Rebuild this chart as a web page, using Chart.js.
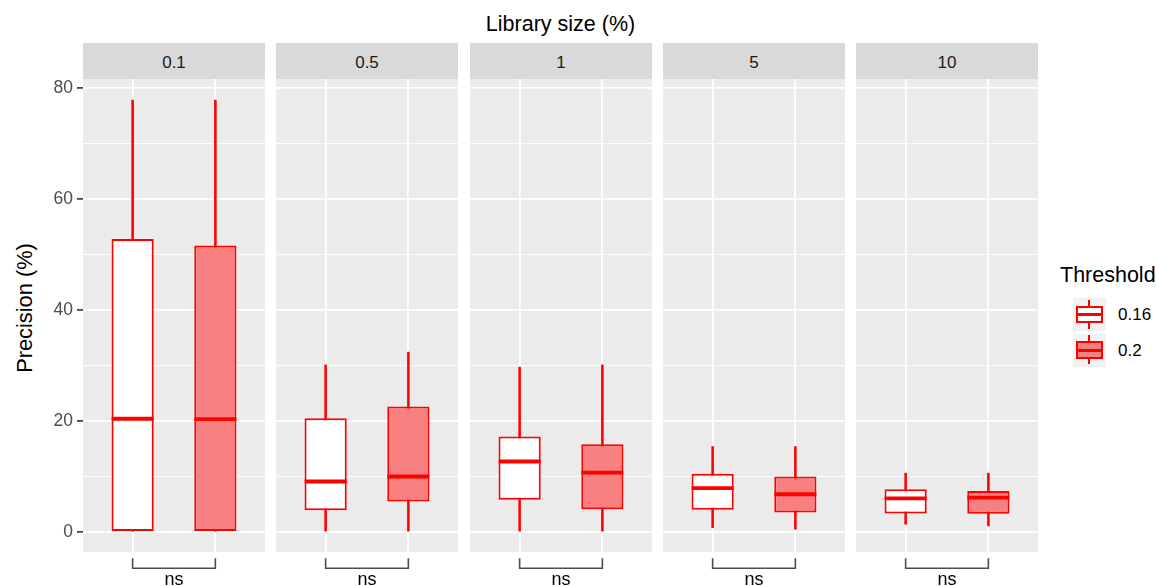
<!DOCTYPE html>
<html lang="en">
<head>
  <meta charset="UTF-8" />
  <title>Precision by library size and threshold</title>
  <script src="https://cdn.jsdelivr.net/npm/chart.js"></script>
  <style>
    body { margin: 0; background: #fff; font-family: "Liberation Sans", Arial, sans-serif; }
    #wrap { position: relative; width: 1156px; height: 586px; overflow: hidden; }
    #wrap canvas { position: absolute; top: 79px; }
    #title { position: absolute; left: 83px; width: 955px; top: 13.5px; text-align: center; font-size: 21.5px; line-height: 1; color: #000; }
    #ytitle { position: absolute; left: 24.5px; top: 308px; transform: translate(-50%, -50%) rotate(-90deg);
              white-space: nowrap; font-size: 21.8px; line-height: 1; color: #000; }
    .strip { position: absolute; top: 43px; height: 36px; width: 182px; box-sizing: border-box; padding-top: 11px;
             background: #d9d9d9; color: #1a1a1a; font-size: 17px; line-height: 1; text-align: center; }
    #legend { position: absolute; left: 1060px; top: 265px; }
    #legend .ltitle { font-size: 21.5px; line-height: 1; color: #000; }
    .key { position: absolute; left: 13px; width: 32.5px; height: 33px; background: #f2f2f2; }
    .key i { position: absolute; display: block; box-sizing: border-box; }
    .key .wh { left: 15.4px; top: 1.7px; width: 1.8px; height: 29px; background: #ff0000; }
    .key .bx { left: 2.6px; top: 7.4px; width: 27.3px; height: 17.6px; border: 2px solid #ff0000; }
    .key .md { left: 2.6px; top: 15.2px; width: 27.3px; height: 2.8px; background: #ff0000; }
    .klab { position: absolute; left: 58px; font-size: 17px; line-height: 1; color: #000; }
  </style>
</head>
<body>
  <div id="wrap">
    <div id="title">Library size (%)</div>
    <div id="ytitle">Precision (%)</div>
    <div id="legend">
      <div class="ltitle">Threshold</div>
    </div>
  </div>

  <script>
    const panels = ["0.1", "0.5", "1", "5", "10"];
    const thresholds = ["0.16", "0.2"];
    const xPos = [1, 2];
    // one row per panel, one column per threshold
    const whiskerLow  = [[0, 0], [0, 0], [0, 0], [0.8, 0.5], [1.4, 1.1]];
    const q1          = [[0, 0], [3.9, 5.5], [5.8, 4.1], [4.0, 3.5], [3.35, 3.3]];
    const median      = [[20.4, 20.35], [9.1, 10.0], [12.7, 10.7], [7.9, 6.8], [6.05, 6.2]];
    const q3          = [[52.8, 51.6], [20.5, 22.6], [17.2, 15.8], [10.5, 10.0], [7.7, 7.4]];
    const whiskerHigh = [[77.8, 77.8], [30.1, 32.4], [29.7, 30.1], [15.4, 15.4], [10.6, 10.6]];
    const pLabels = ["ns", "ns", "ns", "ns", "ns"];
    const yTicks = [0, 20, 40, 60, 80];
    const yMinor = [10, 30, 50, 70];

    const RED = "#ff0000";
    const fills = ["#ffffff", "#f98080"];
    const panelLeft = [83, 276, 470, 663, 856];
    const panelW = 182;
    const wrap = document.getElementById("wrap");

    Chart.defaults.font.family = "'Liberation Sans', Arial, sans-serif";

    // legend keys
    const legend = document.getElementById("legend");
    thresholds.forEach((t, i) => {
      const key = document.createElement("div");
      key.className = "key";
      key.style.top = (33.3 + i * 35.4) + "px";
      key.innerHTML = '<i class="wh"></i><i class="bx" style="background:' + fills[i] + '"></i><i class="md"></i>';
      legend.appendChild(key);
      const lab = document.createElement("div");
      lab.className = "klab";
      lab.style.top = (41.3 + i * 35.4) + "px";
      lab.textContent = t;
      legend.appendChild(lab);
    });

    const panelBg = {
      id: "panelBg",
      beforeDraw(chart) {
        const { ctx, chartArea: a } = chart;
        ctx.save();
        ctx.fillStyle = "#ebebeb";
        ctx.fillRect(a.left, a.top, a.right - a.left, a.bottom - a.top);
        ctx.restore();
      }
    };

    const bracket = {
      id: "bracket",
      afterDraw(chart, args, opts) {
        const { ctx, chartArea: a } = chart;
        const x1 = chart.scales.x.getPixelForValue(xPos[0]);
        const x2 = chart.scales.x.getPixelForValue(xPos[1]);
        const b = a.bottom;
        ctx.save();
        ctx.strokeStyle = "#4d4d4d";
        ctx.lineWidth = 1.6;
        ctx.beginPath();
        ctx.moveTo(x1, b + 6.3);
        ctx.lineTo(x1, b + 16.3);
        ctx.lineTo(x2, b + 16.3);
        ctx.lineTo(x2, b + 6.3);
        ctx.stroke();
        ctx.fillStyle = "#000";
        ctx.font = "18px 'Liberation Sans', Arial, sans-serif";
        ctx.textAlign = "center";
        ctx.textBaseline = "alphabetic";
        ctx.fillText(opts.text, (x1 + x2) / 2, b + 33);
        ctx.restore();
      }
    };

    const allY = yTicks.concat(yMinor).sort((a, b) => a - b);

    panels.forEach((name, p) => {
      const first = p === 0;

      const strip = document.createElement("div");
      strip.className = "strip";
      strip.style.left = panelLeft[p] + "px";
      strip.textContent = name;
      wrap.appendChild(strip);

      const canvas = document.createElement("canvas");
      canvas.width = first ? panelLeft[0] + panelW : panelW;
      canvas.height = 586 - 79;
      canvas.style.left = (first ? 0 : panelLeft[p]) + "px";
      wrap.appendChild(canvas);

      new Chart(canvas, {
        type: "bar",
        data: {
          datasets: [
            {
              label: "whisker",
              data: xPos.map((x, i) => ({ x, y: [whiskerLow[p][i], whiskerHigh[p][i]] })),
              backgroundColor: RED,
              barThickness: 1.9,
              grouped: false,
              order: 3
            },
            {
              label: "box",
              data: xPos.map((x, i) => ({ x, y: [q1[p][i], q3[p][i]] })),
              backgroundColor: fills,
              borderColor: RED,
              borderWidth: 2,
              borderSkipped: false,
              categoryPercentage: 1,
              barPercentage: 0.51,
              grouped: false,
              order: 2
            },
            {
              type: "line",
              label: "median",
              data: xPos.map((x, i) => ({ x, y: median[p][i] })),
              showLine: false,
              pointStyle: "line",
              pointRadius: 21,
              pointBorderWidth: 3.8,
              pointBorderColor: RED,
              order: 1
            }
          ]
        },
        options: {
          responsive: false,
          animation: false,
          events: [],
          layout: { autoPadding: false, padding: { top: 0, bottom: 34, left: 0, right: 0 } },
          plugins: {
            legend: { display: false },
            tooltip: { enabled: false },
            bracket: { text: pLabels[p] }
          },
          scales: {
            x: {
              type: "linear",
              min: 0.4,
              max: 2.6,
              offset: false,
              afterBuildTicks: s => { s.ticks = xPos.map(v => ({ value: v })); },
              afterFit: s => { s.height = 0; },
              ticks: { display: false },
              grid: { color: "#ffffff", lineWidth: 1.8, drawTicks: false, offset: false },
              border: { display: false }
            },
            y: {
              min: -3.6,
              max: 81.6,
              afterBuildTicks: s => { s.ticks = allY.map(v => ({ value: v })); },
              afterFit: s => {
                s.width = first ? panelLeft[0] : 0;
                s.paddingTop = 0;
                s.paddingBottom = 0;
              },
              ticks: {
                display: first,
                autoSkip: false,
                color: "#4d4d4d",
                font: { size: 17.5 },
                padding: 4,
                callback: v => (yTicks.includes(v) ? v : "")
              },
              grid: {
                color: "#ffffff",
                lineWidth: c => (c.tick && yTicks.includes(c.tick.value) ? 1.8 : 0.9),
                drawTicks: first,
                tickLength: 6,
                tickWidth: 1.6,
                tickColor: c => (c.tick && yTicks.includes(c.tick.value) ? "#333333" : "rgba(0,0,0,0)")
              },
              border: { display: false },
              title: { display: false }
            }
          }
        },
        plugins: [panelBg, bracket]
      });
    });
  </script>
</body>
</html>
